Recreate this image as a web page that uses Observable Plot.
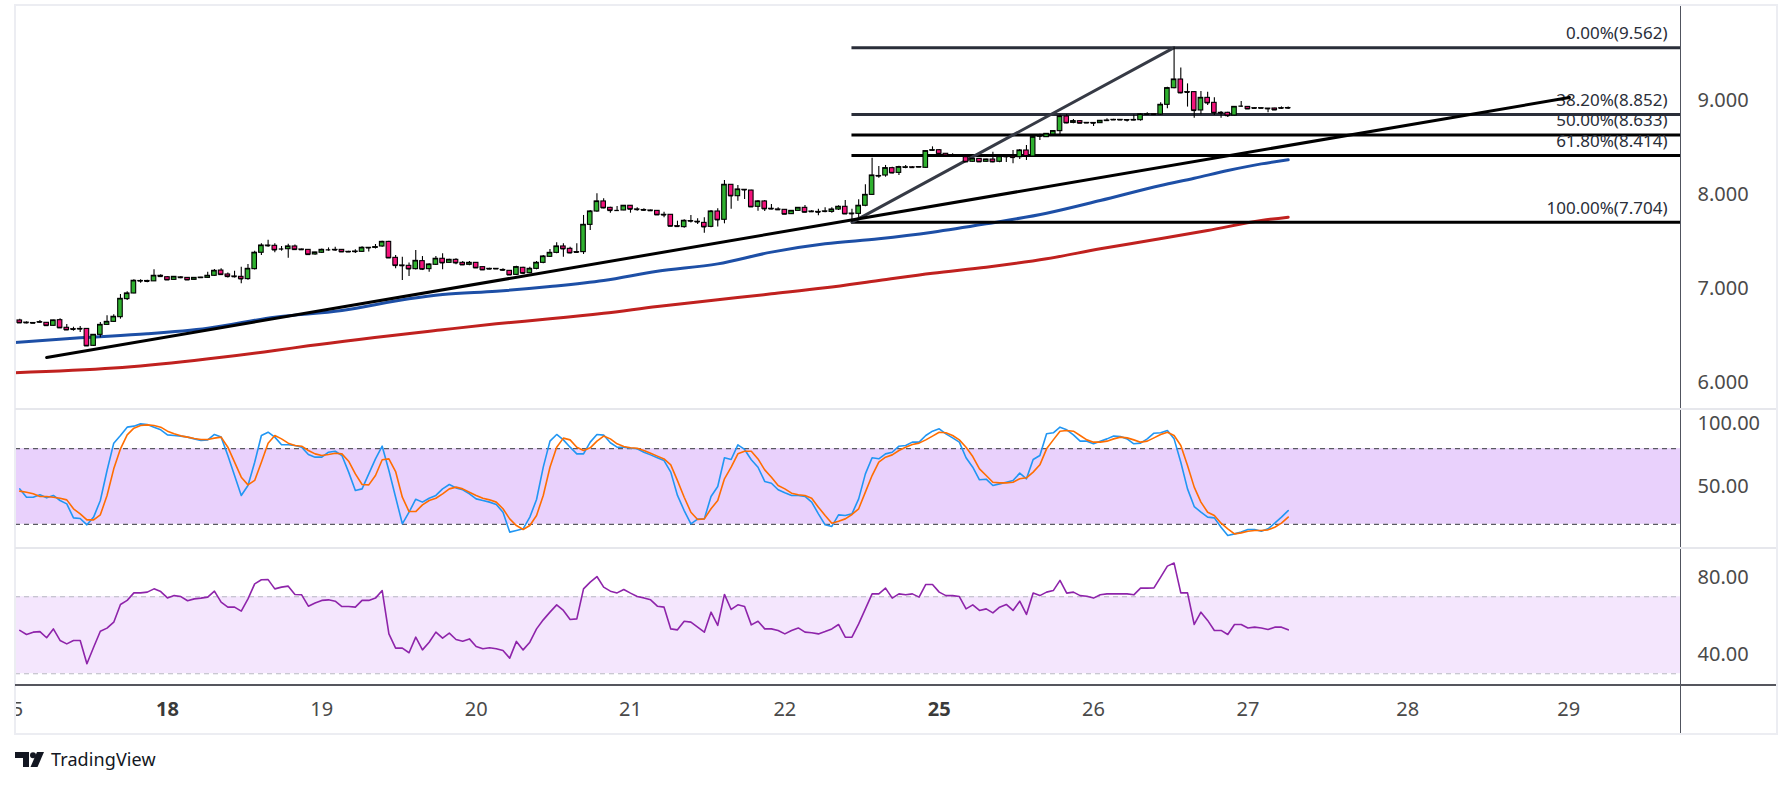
<!DOCTYPE html>
<html><head><meta charset="utf-8">
<script src="https://cdn.jsdelivr.net/npm/d3@7"></script>
<script src="https://cdn.jsdelivr.net/npm/@observablehq/plot@0.6"></script>
<style>
html,body{margin:0;padding:0;background:#fff;}
#wrap{position:relative;width:1791px;height:786px;overflow:hidden;font-family:"Noto Sans",sans-serif;background:#fff;}
.ln{position:absolute;}
</style></head><body><div id="wrap"></div>
<script>
// ---------- DATA ----------
const opens = [6.660,6.637,6.633,6.640,6.635,6.603,6.663,6.582,6.567,6.567,
6.570,6.390,6.507,6.613,6.645,6.695,6.887,6.947,7.078,7.080,
7.076,7.135,7.120,7.092,7.118,7.113,7.092,7.113,7.113,7.135,
7.191,7.149,7.128,7.124,7.100,7.206,7.380,7.457,7.454,7.420,
7.418,7.447,7.415,7.411,7.362,7.380,7.411,7.411,7.411,7.390,
7.389,7.390,7.433,7.433,7.447,7.496,7.326,7.245,7.241,7.206,
7.291,7.206,7.252,7.316,7.273,7.305,7.273,7.252,7.273,7.227,
7.209,7.207,7.197,7.188,7.145,7.220,7.163,7.209,7.273,7.337,
7.379,7.447,7.422,7.387,7.387,7.677,7.819,7.926,7.858,7.830,
7.830,7.880,7.841,7.835,7.830,7.826,7.784,7.784,7.663,7.653,
7.716,7.710,7.698,7.656,7.819,7.731,8.103,7.982,8.050,8.042,
7.869,7.926,7.848,7.841,7.837,7.791,7.826,7.858,7.819,7.815,
7.819,7.815,7.840,7.869,7.797,7.794,7.880,7.996,8.195,8.202,
8.280,8.230,8.287,8.289,8.290,8.284,8.468,8.471,8.433,8.418,
8.415,8.397,8.348,8.379,8.348,8.372,8.348,8.404,8.408,8.397,
8.468,8.404,8.620,8.610,8.638,8.674,8.830,8.762,8.780,8.762,
8.761,8.759,8.785,8.793,8.794,8.792,8.791,8.791,8.851,8.853,
8.851,8.954,9.131,9.223,9.089,9.089,8.894,9.028,8.975,8.869,
8.869,8.840,8.940,8.932,8.918,8.917,8.914,8.915,8.917,8.918];
const highs = [6.674,6.645,6.638,6.660,6.638,6.662,6.677,6.617,6.588,6.596,
6.572,6.507,6.638,6.709,6.720,6.936,6.965,7.092,7.092,7.089,
7.199,7.145,7.124,7.127,7.127,7.116,7.116,7.120,7.174,7.202,
7.209,7.166,7.184,7.227,7.255,7.397,7.475,7.514,7.475,7.447,
7.472,7.464,7.420,7.413,7.385,7.420,7.432,7.440,7.413,7.395,
7.411,7.443,7.435,7.468,7.503,7.503,7.351,7.333,7.270,7.404,
7.340,7.262,7.340,7.369,7.310,7.316,7.287,7.287,7.276,7.230,
7.215,7.212,7.209,7.190,7.238,7.227,7.227,7.287,7.351,7.415,
7.486,7.475,7.440,7.475,7.777,7.830,8.007,7.954,7.865,7.872,
7.883,7.883,7.858,7.848,7.835,7.830,7.812,7.787,7.716,7.731,
7.777,7.741,7.752,7.830,7.848,8.149,8.103,8.096,8.052,8.045,
7.936,7.936,7.894,7.858,7.840,7.830,7.862,7.883,7.830,7.844,
7.858,7.858,7.880,7.936,7.844,7.943,8.103,8.386,8.298,8.309,
8.291,8.301,8.309,8.298,8.296,8.464,8.507,8.479,8.436,8.433,
8.420,8.400,8.383,8.383,8.376,8.450,8.415,8.422,8.468,8.479,
8.521,8.612,8.642,8.649,8.677,8.847,8.851,8.798,8.787,8.766,
8.764,8.787,8.805,8.800,8.798,8.794,8.847,8.862,8.869,8.855,
8.975,9.142,9.562,9.347,9.177,9.096,9.096,9.089,9.028,8.883,
8.876,8.936,8.989,8.936,8.922,8.920,8.916,8.918,8.932,8.932];
const lows = [6.631,6.624,6.627,6.631,6.603,6.600,6.578,6.553,6.546,6.532,
6.383,6.383,6.475,6.610,6.638,6.674,6.872,6.944,7.057,7.060,
7.074,7.120,7.090,7.090,7.103,7.090,7.090,7.110,7.110,7.130,
7.138,7.113,7.113,7.050,7.089,7.198,7.351,7.440,7.380,7.397,
7.322,7.404,7.410,7.360,7.355,7.372,7.397,7.397,7.388,7.385,
7.372,7.383,7.387,7.420,7.440,7.324,7.209,7.085,7.128,7.198,
7.191,7.174,7.245,7.199,7.270,7.252,7.245,7.241,7.217,7.195,
7.200,7.203,7.184,7.142,7.138,7.149,7.156,7.199,7.262,7.330,
7.369,7.333,7.369,7.380,7.362,7.617,7.812,7.848,7.801,7.823,
7.826,7.801,7.823,7.823,7.823,7.780,7.752,7.660,7.653,7.642,
7.698,7.681,7.589,7.645,7.653,7.688,7.844,7.929,7.947,7.865,
7.823,7.819,7.837,7.830,7.787,7.787,7.823,7.805,7.809,7.773,
7.805,7.801,7.830,7.787,7.704,7.752,7.870,7.990,8.174,8.184,
8.220,8.202,8.273,8.280,8.287,8.280,8.461,8.426,8.410,8.408,
8.410,8.344,8.344,8.344,8.344,8.337,8.337,8.341,8.326,8.372,
8.362,8.397,8.574,8.606,8.635,8.635,8.752,8.752,8.755,8.759,
8.723,8.755,8.777,8.787,8.787,8.770,8.784,8.780,8.840,8.845,
8.840,8.912,9.124,9.071,8.930,8.812,8.848,8.947,8.840,8.812,
8.819,8.836,8.929,8.908,8.914,8.914,8.870,8.897,8.904,8.904];
const closes = [6.635,6.635,6.631,6.642,6.606,6.660,6.582,6.560,6.565,6.570,
6.390,6.507,6.613,6.645,6.699,6.890,6.947,7.082,7.080,7.076,
7.135,7.128,7.092,7.124,7.116,7.092,7.113,7.116,7.135,7.188,
7.149,7.128,7.126,7.103,7.209,7.380,7.457,7.455,7.411,7.420,
7.447,7.415,7.413,7.362,7.383,7.411,7.411,7.410,7.390,7.389,
7.393,7.433,7.432,7.440,7.496,7.326,7.245,7.243,7.209,7.294,
7.206,7.255,7.316,7.273,7.305,7.273,7.252,7.273,7.220,7.199,
7.207,7.209,7.195,7.145,7.227,7.163,7.209,7.273,7.340,7.379,
7.447,7.422,7.379,7.385,7.677,7.819,7.926,7.858,7.830,7.830,
7.880,7.844,7.840,7.833,7.828,7.784,7.782,7.663,7.660,7.720,
7.717,7.708,7.656,7.819,7.731,8.103,7.986,8.053,8.049,7.869,
7.926,7.848,7.846,7.838,7.791,7.826,7.858,7.812,7.817,7.812,
7.820,7.840,7.869,7.794,7.795,7.880,7.996,8.202,8.197,8.280,
8.230,8.291,8.289,8.287,8.292,8.461,8.471,8.433,8.415,8.416,
8.414,8.348,8.379,8.348,8.372,8.348,8.404,8.402,8.394,8.468,
8.408,8.610,8.621,8.645,8.674,8.830,8.762,8.780,8.759,8.761,
8.759,8.784,8.787,8.794,8.793,8.791,8.793,8.851,8.853,8.851,
8.954,9.131,9.223,9.082,9.087,8.894,9.028,8.975,8.869,8.867,
8.840,8.932,8.940,8.911,8.917,8.918,8.912,8.900,8.918,8.920];

const maFastBars = [0,10,20,29,39,49,59,64,72,80,88,96,105,113,121,129,137,145,154,162,171,176,181,186,190];
const maFastVals = [6.425,6.476,6.518,6.578,6.695,6.766,6.890,6.935,6.971,7.021,7.085,7.184,7.262,7.387,7.475,7.529,7.599,7.688,7.801,7.936,8.096,8.173,8.255,8.326,8.369];
const maSlowBars = [0,15,27,39,44,64,72,80,88,96,105,113,121,129,137,145,154,162,170,178,186,190];
const maSlowVals = [6.103,6.153,6.234,6.340,6.390,6.561,6.624,6.677,6.737,6.809,6.880,6.943,7.007,7.085,7.163,7.227,7.316,7.422,7.518,7.617,7.723,7.759];

const trendBars = [5, 231.9];
const trendVals = [6.266, 9.032];

const fibPct = ["0.00%","38.20%","50.00%","61.80%","100.00%"];
const fibVals = [9.562, 8.852, 8.633, 8.414, 7.704];
const fibFromBar = 125, fibPeakBar = 173;

const stochK = [48.1,41.5,41.5,43.4,41.0,42.9,38.9,36.2,25.1,24.6,
19.6,25.7,38.9,62.7,84.4,90.5,97.1,97.9,99.7,99.2,
97.1,95.0,91.0,90.5,90.0,89.2,87.8,86.5,87.0,91.3,
89.2,74.6,58.7,42.9,50.8,69.3,90.5,93.1,89.2,83.1,
83.1,82.5,81.2,75.4,73.3,73.3,77.2,78.0,74.6,61.4,
46.8,48.1,60.0,71.9,82.0,62.7,41.5,20.4,29.6,39.9,
37.6,40.7,42.9,48.1,51.6,48.9,47.4,44.2,40.2,38.9,
37.6,35.7,29.6,13.8,15.1,16.4,25.7,39.7,65.4,86.0,
91.3,87.0,81.2,75.9,75.9,85.2,91.3,90.8,84.7,81.2,
81.2,80.4,79.9,77.2,75.1,72.8,70.6,61.4,42.9,30.9,
20.4,24.1,24.3,42.1,50.0,72.8,71.4,83.1,79.4,71.2,
65.3,54.0,52.6,47.4,45.0,42.9,42.9,42.1,37.6,28.3,
19.6,18.3,27.5,27.0,28.3,40.2,60.0,72.8,72.0,75.9,
77.2,82.0,82.5,85.2,85.2,90.5,93.9,95.8,91.8,88.6,
85.2,72.8,65.3,55.3,55.8,50.8,52.1,53.4,54.7,60.6,
56.1,71.4,74.6,91.8,92.6,97.1,95.0,91.0,86.0,86.0,
83.9,86.0,87.8,90.0,89.7,87.8,83.9,84.4,87.8,92.3,
92.6,94.4,87.8,69.3,48.1,34.1,29.6,25.7,25.1,17.7,
11.1,12.4,13.8,15.9,15.9,14.5,16.4,20.9,25.7,30.9];
const stochD = [46.3,45.5,44.2,42.1,42.1,41.5,40.7,39.4,32.3,28.3,
23.5,23.5,27.5,42.9,64.0,79.9,91.0,96.3,98.4,98.9,
98.4,97.1,93.9,91.8,90.2,89.2,88.1,87.3,87.3,88.4,
89.2,81.2,69.3,57.4,51.3,54.8,69.3,84.4,90.5,87.8,
84.4,82.5,82.0,78.6,75.9,74.6,75.4,76.4,75.9,70.1,
60.0,51.6,51.3,58.7,71.2,71.9,61.9,41.5,30.1,30.1,
35.4,38.9,40.7,44.2,48.1,49.5,48.1,45.5,42.9,40.7,
39.4,37.6,32.3,24.3,19.0,15.9,19.0,27.0,42.9,65.3,
81.2,88.4,87.0,81.2,78.6,80.7,86.0,90.0,87.8,83.9,
81.8,80.7,80.4,78.6,76.4,74.1,71.9,67.2,54.7,41.5,
29.6,23.8,24.3,32.3,38.9,56.1,65.3,75.9,78.0,78.0,
71.9,63.2,57.4,50.8,48.1,44.7,43.4,42.9,40.7,33.6,
27.0,20.9,22.5,24.3,27.8,32.3,45.5,58.7,69.3,73.3,
75.1,78.6,81.2,83.3,84.4,87.0,90.0,93.1,92.6,90.5,
87.0,81.2,73.8,64.0,58.7,53.4,52.9,52.9,53.4,56.1,
56.9,61.4,67.2,79.9,87.0,93.9,94.4,93.9,90.5,87.0,
85.2,85.2,86.0,87.8,89.2,88.6,87.0,85.2,86.0,88.6,
91.3,93.1,90.5,82.5,66.7,49.5,37.6,29.6,27.0,20.9,
16.4,12.4,13.2,14.5,15.1,15.1,15.6,17.7,20.9,25.7];
const rsi = [52.5,50.4,51.6,51.9,48.7,53.3,47.3,45.5,47.3,47.3,
35.2,43.8,52.1,53.7,56.8,66.0,68.1,72.0,72.0,72.4,
74.1,72.7,69.4,70.6,70.1,67.9,68.9,69.3,69.8,72.9,
67.2,64.6,64.6,62.5,68.9,76.7,78.8,78.9,74.1,75.0,
75.5,71.2,71.0,65.1,66.8,68.1,68.4,67.7,64.9,64.9,
64.6,68.1,68.1,69.3,73.2,50.7,43.3,43.3,40.9,49.0,
42.4,46.4,51.6,48.5,51.1,47.8,46.9,48.1,44.2,43.0,
43.5,43.0,42.1,38.1,46.8,42.4,46.4,53.3,58.0,62.0,
65.8,62.9,58.2,58.5,74.1,77.6,80.5,75.0,72.9,72.0,
73.8,71.9,70.1,69.4,68.4,65.1,64.6,53.3,52.8,57.3,
56.8,54.2,51.6,62.0,55.1,71.2,63.4,65.8,64.9,55.4,
57.3,53.3,53.3,52.5,50.7,52.5,53.8,51.6,51.3,50.7,
51.9,53.3,55.6,49.0,49.0,55.9,63.7,71.5,71.5,74.5,
69.3,71.5,71.0,71.5,69.8,76.4,76.4,72.4,70.6,70.6,
70.1,63.7,65.8,62.9,63.7,61.6,64.6,66.0,62.9,67.7,
60.8,71.9,70.6,72.4,73.2,78.5,71.9,72.4,70.6,70.3,
69.3,71.0,71.5,71.5,71.5,71.5,71.0,74.5,74.5,74.6,
80.2,85.9,87.5,72.0,72.0,55.6,62.0,57.7,52.5,52.5,
50.4,55.6,55.6,53.8,54.2,53.8,53.0,54.2,54.2,52.8];

const priceTicks = [6, 7, 8, 9];
const stochTicks = [100, 50];
const stochBands = [80, 20];
const rsiTicks = [80, 40];
const rsiBands = [70, 30];
const dayLabels = ["15","18","19","20","21","22","25","26","27","28","29"];
const dayBars   = [-0.2, 23, 46, 69, 92, 115, 138, 161, 184, 207.8, 231.8];
const boldDays  = ["18","25"];

// ---------- BUILD ----------
const candles = opens.map((o, i) => ({n: i + 1, o, h: highs[i], l: lows[i], c: closes[i]}));
const maFast = maFastBars.map((n, i) => ({n, v: maFastVals[i]}));
const maSlow = maSlowBars.map((n, i) => ({n, v: maSlowVals[i]}));
const trend = trendBars.map((n, i) => ({n, v: trendVals[i]}));
const fibs = fibVals.map((p, i) => ({p, label: `${fibPct[i]}(${p.toFixed(3)})`, i}));
const fibDiag = [{n: fibFromBar, v: fibVals[4]}, {n: fibPeakBar, v: fibVals[0]}];
const kS = stochK.map((v, i) => ({n: i + 1, v}));
const dS = stochD.map((v, i) => ({n: i + 1, v}));
const rS = rsi.map((v, i) => ({n: i + 1, v}));
const days = dayLabels.map((label, i) => ({label, n: dayBars[i], bold: boldDays.includes(label)}));

const FONT = '"Noto Sans", sans-serif';
const AX = "#4a4a4a";
const AXLINE = "#50535e";
const X = {domain: [1, 190], range: [19.3, 19.3 + 189 * 6.711], axis: null};
const GREEN = "#2fb12f", PINK = "#f3137c";
const common = (top, height) => ({
  width: 1791, height, marginTop: 0, marginBottom: 0, marginLeft: 15, marginRight: 111,
  style: {position: "absolute", left: "0px", top: top + "px", background: "transparent", fontFamily: FONT, overflow: "visible"}
});
const axisText = (ticks, fmt) => Plot.text(ticks, {y: d => d, frameAnchor: "right", dx: 17, textAnchor: "start",
  text: d => d.toFixed(fmt), fontSize: 20, fill: AX});

const wrap = document.getElementById("wrap");

const price = Plot.plot({
  ...common(0, 409), marginTop: 5,
  x: X, y: {domain: [6, 9], range: [382, 100], axis: null},
  marks: [
    Plot.line(maSlow, {x: "n", y: "v", stroke: "#c0211f", strokeWidth: 3, curve: "monotone-x", clip: true}),
    Plot.line(maFast, {x: "n", y: "v", stroke: "#1d4fa6", strokeWidth: 3, curve: "monotone-x", clip: true}),
    Plot.ruleY(fibs, {y: "p", x1: fibFromBar, x2: 260, stroke: d => d.i < 2 ? "#2a2e39" : "#000000", strokeWidth: 3, clip: true}),
    Plot.line(fibDiag, {x: "n", y: "v", stroke: "#363a45", strokeWidth: 3, clip: true}),
    Plot.text(fibs, {y: "p", frameAnchor: "right", dx: -13, dy: -14, textAnchor: "end", text: "label", fontSize: 17, fill: "#2a2e39"}),
    Plot.line(trend, {x: "n", y: "v", stroke: "#000", strokeWidth: 3, clip: true}),
    Plot.ruleX(candles, {x: "n", y1: "l", y2: "h", stroke: "#000", strokeWidth: 1.1, clip: true}),
    Plot.rect(candles, {x1: d => d.n - 0.34, x2: d => d.n + 0.34, y1: "o", y2: "c",
      fill: d => d.c >= d.o ? GREEN : PINK, stroke: "#000", strokeWidth: 1.1, clip: true}),
    Plot.ruleY(candles, {x1: d => d.n - 0.34, x2: d => d.n + 0.34, y: "c", stroke: "#000", strokeWidth: 1.3, clip: true}),
    axisText(priceTicks, 3),
    Plot.frame({anchor: "right", stroke: AXLINE})
  ]
});

const stoch = Plot.plot({
  ...common(409, 139),
  x: X, y: {domain: [50, 100], range: [77, 14], axis: null},
  marks: [
    Plot.rect([stochBands], {x1: -5, x2: 260, y1: d => d[1], y2: d => d[0], fill: "#e9d1fc", clip: true}),
    Plot.ruleY(stochBands, {stroke: "#5a5a62", strokeWidth: 1.2, strokeDasharray: "5,4"}),
    Plot.line(kS, {x: "n", y: "v", stroke: "#2196f3", strokeWidth: 1.6, clip: true}),
    Plot.line(dS, {x: "n", y: "v", stroke: "#ff6d00", strokeWidth: 1.6, clip: true}),
    axisText(stochTicks, 2),
    Plot.frame({anchor: "right", stroke: AXLINE})
  ]
});

const rsiPlot = Plot.plot({
  ...common(548, 137),
  x: X, y: {domain: [40, 80], range: [106, 29], axis: null},
  marks: [
    Plot.rect([rsiBands], {x1: -5, x2: 260, y1: d => d[1], y2: d => d[0], fill: "#f4e6fd", clip: true}),
    Plot.ruleY(rsiBands, {stroke: "#b8b8c2", strokeWidth: 1.2, strokeDasharray: "5,4"}),
    Plot.line(rS, {x: "n", y: "v", stroke: "#8e24aa", strokeWidth: 1.6, clip: true}),
    axisText(rsiTicks, 2),
    Plot.frame({anchor: "right", stroke: AXLINE})
  ]
});

const xAxis = Plot.plot({
  ...common(685, 48),
  x: X, y: {domain: [0, 1], axis: null},
  marks: [
    Plot.text(days.filter(d => !d.bold), {x: "n", frameAnchor: "middle", text: "label", fontSize: 20, fill: AX, clip: true}),
    Plot.text(days.filter(d => d.bold), {x: "n", frameAnchor: "middle", text: "label", fontSize: 20, fontWeight: 700, fill: "#3a3a3a", clip: true}),
    Plot.frame({anchor: "right", stroke: AXLINE})
  ]
});

wrap.append(price, stoch, rsiPlot, xAxis);

// panel separators and frame (decorative)
function line(css) { const d = document.createElement("div"); d.className = "ln"; Object.assign(d.style, css); wrap.append(d); }
line({left: "14px", top: "4px", width: "1760px", height: "727px", border: "2px solid #ecedf2"});
line({left: "15px", top: "408px", width: "1761px", height: "2px", background: "#e6e7ec"});
line({left: "15px", top: "547px", width: "1761px", height: "2px", background: "#e6e7ec"});
line({left: "15px", top: "684px", width: "1761px", height: "1.5px", background: "#55565e"});

// TradingView branding
const brand = document.createElement("div");
brand.style.cssText = "position:absolute;left:15px;top:746px;height:26px;display:flex;align-items:center;gap:7px;";
brand.innerHTML = '<svg width="29" height="15" viewBox="0 0 29 15"><path d="M0 0H14V15H8V6H0Z" fill="#131722"/><circle cx="18" cy="3.2" r="3" fill="#131722"/><path d="M22 0H29L22.5 15H15.5Z" fill="#131722"/></svg>' +
  '<span style="font-family:' + FONT.replace(/"/g, "&quot;") + ';font-size:18px;color:#131722;letter-spacing:0.1px;">TradingView</span>';
wrap.append(brand);
</script></body></html>
